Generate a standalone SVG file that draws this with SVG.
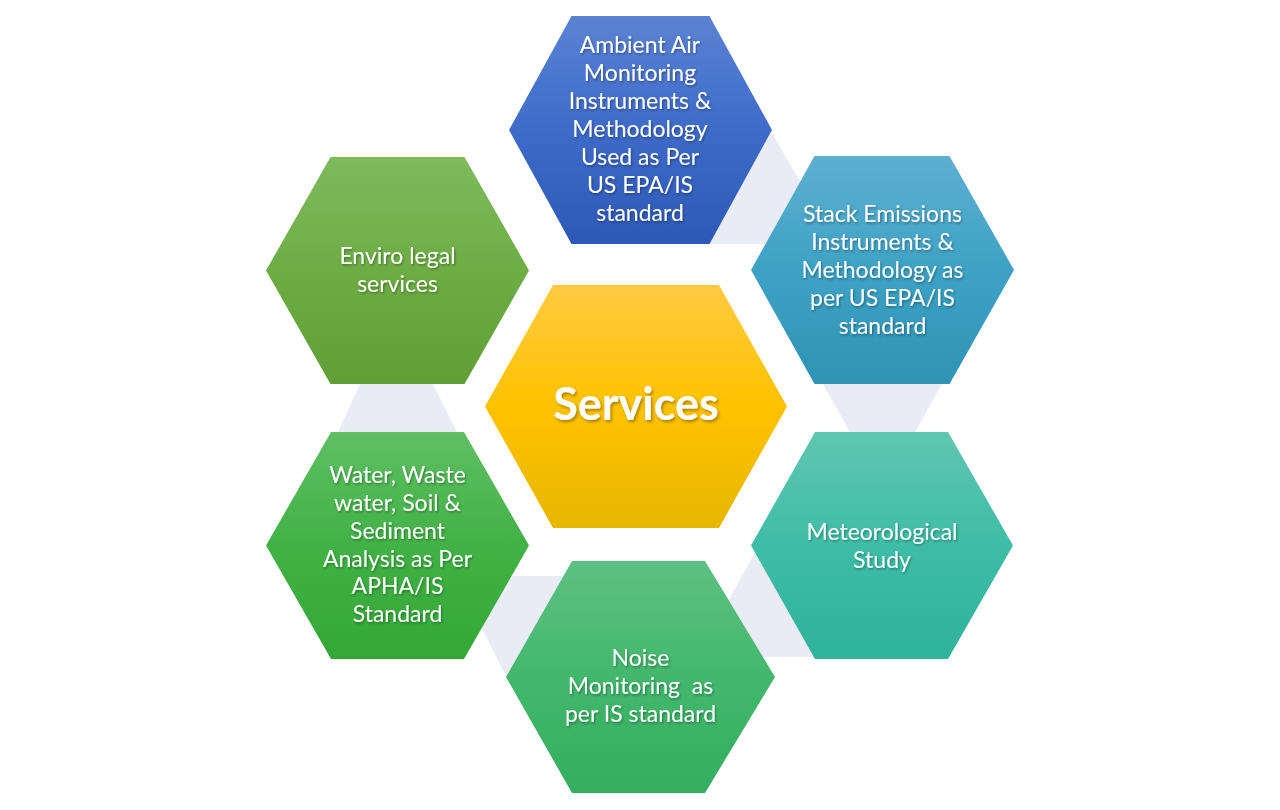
<svg xmlns="http://www.w3.org/2000/svg" width="1280" height="810" viewBox="0 0 1280 810">
  <style>
    .t { font-family: Lato, "Open Sans", "Liberation Sans", sans-serif; font-size: 23px; fill: #ffffff; text-anchor: middle; filter: url(#ts); }
    .big { font-family: Lato, "Open Sans", "Liberation Sans", sans-serif; font-size: 45px; font-weight: bold; fill: #ffffff; text-anchor: middle; filter: url(#ts2); }
    .conn { fill: #E9ECF5; stroke: none; }
  </style>
  <defs>
    <filter id="ts" x="-10%" y="-30%" width="120%" height="160%">
      <feDropShadow dx="1" dy="1.5" stdDeviation="1" flood-color="#000000" flood-opacity="0.35"/>
    </filter>
    <filter id="ts2" x="-10%" y="-30%" width="120%" height="160%">
      <feDropShadow dx="1.5" dy="2" stdDeviation="1.5" flood-color="#000000" flood-opacity="0.35"/>
    </filter>
    <linearGradient id="gBlue" x1="0" y1="0" x2="0" y2="1">
      <stop offset="0" stop-color="#5B83D4"/>
      <stop offset="0.5" stop-color="#3E6BC9"/>
      <stop offset="1" stop-color="#2D59B6"/>
    </linearGradient>
    <linearGradient id="gCyan" x1="0" y1="0" x2="0" y2="1">
      <stop offset="0" stop-color="#5EAFD0"/>
      <stop offset="0.5" stop-color="#3DA2C5"/>
      <stop offset="1" stop-color="#2E93B5"/>
    </linearGradient>
    <linearGradient id="gOlive" x1="0" y1="0" x2="0" y2="1">
      <stop offset="0" stop-color="#7FBA5D"/>
      <stop offset="0.5" stop-color="#6DAD44"/>
      <stop offset="1" stop-color="#5F9F35"/>
    </linearGradient>
    <linearGradient id="gGold" x1="0" y1="0" x2="0" y2="1">
      <stop offset="0" stop-color="#FFCA42"/>
      <stop offset="0.5" stop-color="#FFC200"/>
      <stop offset="1" stop-color="#E7B700"/>
    </linearGradient>
    <linearGradient id="gGreen" x1="0" y1="0" x2="0" y2="1">
      <stop offset="0" stop-color="#5FBF63"/>
      <stop offset="0.5" stop-color="#41B245"/>
      <stop offset="1" stop-color="#33A836"/>
    </linearGradient>
    <linearGradient id="gTeal" x1="0" y1="0" x2="0" y2="1">
      <stop offset="0" stop-color="#60C6B1"/>
      <stop offset="0.5" stop-color="#3EBDA6"/>
      <stop offset="1" stop-color="#2FB39A"/>
    </linearGradient>
    <linearGradient id="gMint" x1="0" y1="0" x2="0" y2="1">
      <stop offset="0" stop-color="#5EC083"/>
      <stop offset="0.5" stop-color="#42B86C"/>
      <stop offset="1" stop-color="#33AE5E"/>
    </linearGradient>
  </defs>

  <rect x="0" y="0" width="1280" height="810" fill="#ffffff"/>

  <g id="connectors">
    <polygon class="conn" points="772,133 812,202 770,244 706,244 730,190"/>
    <polygon class="conn" points="820.8,380 944.2,380 912.8,436 852.2,436"/>
    <polygon class="conn" points="759,545 712,630 760,657 816,657"/>
    <polygon class="conn" points="508,576 570,576 508,680 470,605"/>
    <polygon class="conn" points="361.8,380 431,380 459,436 336.2,436"/>
  </g>

  <g id="node-ambient">
    <polygon points="571.5,16 709.5,16 772,130 709.5,244 571.5,244 509,130" fill="url(#gBlue)"/>
    <text class="t" x="640" y="53">Ambient Air</text>
    <text class="t" x="640" y="81">Monitoring</text>
    <text class="t" x="640" y="109">Instruments &amp;</text>
    <text class="t" x="640" y="137">Methodology</text>
    <text class="t" x="640" y="165">Used as Per</text>
    <text class="t" x="640" y="193">US EPA/IS</text>
    <text class="t" x="640" y="221">standard</text>
  </g>

  <g id="node-stack">
    <polygon points="814.5,156 949.5,156 1014,270 949.5,384 814.5,384 751,270" fill="url(#gCyan)"/>
    <text class="t" x="882.5" y="222">Stack Emissions</text>
    <text class="t" x="882.5" y="250">Instruments &amp;</text>
    <text class="t" x="882.5" y="278">Methodology as</text>
    <text class="t" x="882.5" y="306">per US EPA/IS</text>
    <text class="t" x="882.5" y="334">standard</text>
  </g>

  <g id="node-enviro">
    <polygon points="330.5,157 464.5,157 529,270.5 464.5,384 330.5,384 266,270.5" fill="url(#gOlive)"/>
    <text class="t" x="397.5" y="264">Enviro legal</text>
    <text class="t" x="397.5" y="292">services</text>
  </g>

  <g id="node-services">
    <polygon points="553,285 719,285 787,406.5 719,528 553,528 485,406.5" fill="url(#gGold)"/>
    <text class="big" x="636" y="420">Services</text>
  </g>

  <g id="node-water">
    <polygon points="331,432 464,432 529,545.5 464,659 331,659 266,545.5" fill="url(#gGreen)"/>
    <text class="t" x="397.5" y="483">Water, Waste</text>
    <text class="t" x="397.5" y="511">water, Soil &amp;</text>
    <text class="t" x="397.5" y="539">Sediment</text>
    <text class="t" x="397.5" y="567">Analysis as Per</text>
    <text class="t" x="397.5" y="594">APHA/IS</text>
    <text class="t" x="397.5" y="622">Standard</text>
  </g>

  <g id="node-meteorological">
    <polygon points="815,432 948,432 1013,545.5 948,659 815,659 751,545.5" fill="url(#gTeal)"/>
    <text class="t" x="882" y="540">Meteorological</text>
    <text class="t" x="882" y="568">Study</text>
  </g>

  <g id="node-noise">
    <polygon points="572,561 705,561 775,677 705,793 572,793 506,677" fill="url(#gMint)"/>
    <text class="t" x="640.5" y="666">Noise</text>
    <text class="t" x="640.5" y="694" xml:space="preserve">Monitoring  as</text>
    <text class="t" x="640.5" y="722">per IS standard</text>
  </g>
</svg>
